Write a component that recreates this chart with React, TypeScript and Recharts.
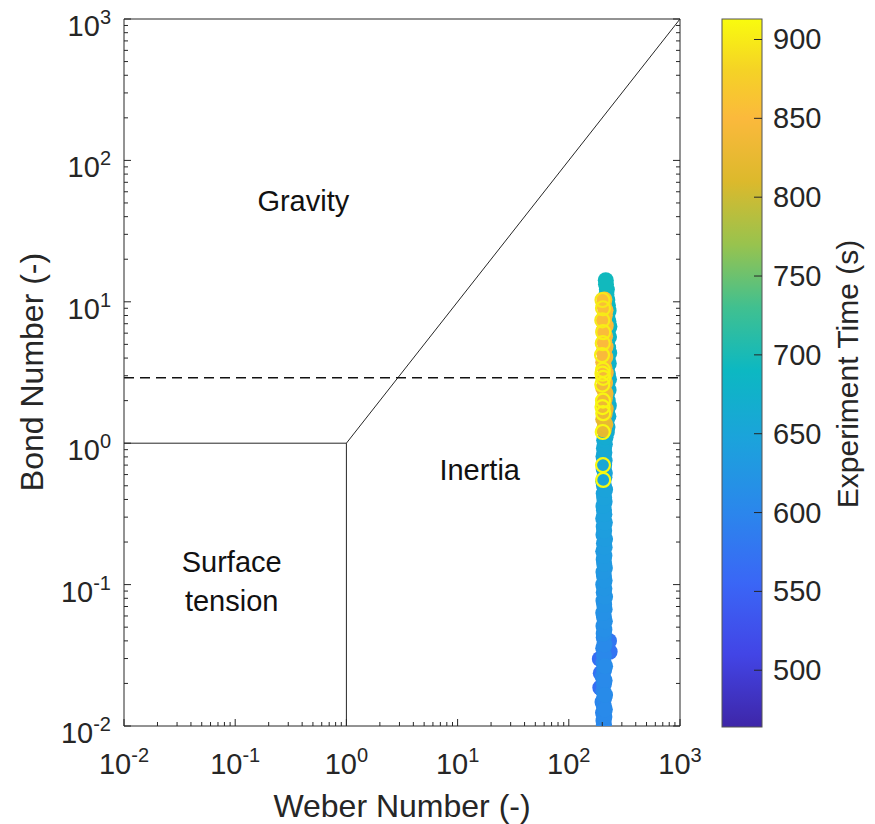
import React from "react";
import { ScatterChart, Scatter, XAxis, YAxis, ReferenceLine, ReferenceDot } from "recharts";

// axis ticks (log10 decades)
const majorTicks = [0.01, 0.1, 1, 10, 100, 1000];
const minorTicks = majorTicks.slice(0, -1).flatMap((m) => [2, 3, 4, 5, 6, 7, 8, 9].map((k) => m * k));
const allTicks = [...majorTicks, ...minorTicks].sort((a, b) => a - b);
const cbTicks = [500, 550, 600, 650, 700, 750, 800, 850, 900];
const cbRange = [464, 913];

// run 1: early part, low Bond numbers
const bond1 = [0.0103, 0.0109, 0.0116, 0.0124, 0.0131, 0.0139, 0.0148, 0.0157, 0.0166, 0.0176, 0.0187, 0.0198, 0.021, 0.0223, 0.0236, 0.025, 0.0265, 0.0281, 0.0298, 0.0316, 0.0335, 0.0355, 0.0376, 0.0399, 0.0423];
const weber1 = [207, 205, 209, 203, 211, 206, 201, 208, 212, 204, 192, 207, 210, 202, 194, 208, 212, 205, 190, 207, 233, 204, 209, 230, 206];
const time1 = [603, 601, 605, 599, 606, 602, 597, 604, 608, 600, 566, 603, 607, 598, 570, 605, 609, 601, 564, 604, 574, 602, 606, 577, 605];

// run 2
const bond2 = [0.045, 0.048, 0.051, 0.055, 0.059, 0.063, 0.067, 0.072, 0.077, 0.082, 0.088, 0.094, 0.1, 0.107, 0.115, 0.123, 0.131, 0.14, 0.15, 0.16, 0.172, 0.184, 0.196, 0.21, 0.225, 0.24, 0.257, 0.275, 0.294, 0.314, 0.336, 0.36, 0.385, 0.411, 0.44, 0.47, 0.503, 0.538, 0.575, 0.615, 0.658, 0.704, 0.753, 0.805, 0.861, 0.921, 0.985, 1.05];
const weber2 = [206, 209, 205, 211, 207, 204, 210, 208, 205, 212, 206, 209, 204, 210, 207, 205, 211, 208, 206, 209, 204, 210, 207, 212, 205, 208, 206, 211, 204, 209, 207, 205, 210, 208, 206, 212, 207, 204, 209, 211, 206, 208, 210, 205, 209, 207, 211, 208];
const time2 = [611, 614, 613, 616, 615, 618, 617, 620, 619, 622, 621, 624, 623, 626, 625, 628, 627, 630, 629, 632, 631, 634, 633, 636, 635, 638, 637, 640, 639, 642, 641, 644, 643, 646, 645, 648, 647, 650, 649, 652, 651, 654, 653, 656, 658, 657, 660, 661];

// run 3
const bond3 = [1.1, 1.2, 1.3, 1.42, 1.55, 1.69, 1.84, 2.0, 2.18, 2.38, 2.6, 2.83, 3.08, 3.36, 3.66, 3.99, 4.35, 4.74, 5.17, 5.63, 6.14, 6.69, 7.29, 7.95, 8.66, 9.44, 10.3, 11.2, 12.2, 13.3, 14.2];
const weber3 = [214, 220, 223, 218, 227, 221, 229, 224, 219, 228, 222, 230, 225, 220, 229, 223, 231, 226, 221, 230, 224, 232, 227, 222, 228, 225, 222, 218, 220, 216, 215];
const time3 = [664, 666, 665, 668, 667, 670, 669, 672, 671, 674, 673, 676, 675, 678, 677, 680, 679, 682, 681, 684, 683, 686, 685, 688, 687, 690, 689, 692, 691, 694, 693];

// run 4
const bond4 = [1.25, 1.36, 1.48, 1.61, 1.75, 1.9, 2.07, 2.25, 2.45, 2.67, 2.9, 3.16, 3.44, 3.74, 4.07, 4.43, 4.82, 5.25, 5.71, 6.22, 6.77, 7.37, 8.02, 8.73, 9.5, 10.4];
const weber4 = [207, 213, 204, 210, 215, 205, 211, 214, 204, 212, 207, 215, 209, 204, 213, 206, 214, 208, 212, 205, 215, 207, 211, 214, 206, 209];
const time4 = [822, 826, 824, 830, 828, 833, 831, 836, 834, 839, 837, 842, 840, 845, 843, 848, 846, 850, 849, 853, 851, 855, 854, 857, 856, 858];

// run 5: last points (drawn as open circles)
const bond5 = [10.3, 9.0, 7.4, 6.1, 5.1, 4.2, 3.3, 3.1, 2.9, 2.6, 2.0, 1.8, 1.63, 1.2, 0.7, 0.55];
const weber5 = [201, 203, 200, 204, 202, 199, 203, 201, 204, 200, 203, 201, 204, 202, 203, 204];
const time5 = [898, 900, 899, 902, 901, 903, 904, 906, 905, 907, 908, 910, 909, 911, 910, 912];

// regime boundaries
const criticalBond = 2.9;
const boundaries = [
  [{ x: 1, y: 1 }, { x: 1000, y: 1000 }],
  [{ x: 1, y: 0.01 }, { x: 1, y: 1 }],
  [{ x: 0.01, y: 1 }, { x: 1, y: 1 }],
];
const regimeLabels = [
  { text: "Gravity", we: 0.41, bo: 52 },
  { text: "Inertia", we: 15.8, bo: 0.645 },
  { text: "Surface", we: 0.093, bo: 0.145 },
  { text: "tension", we: 0.093, bo: 0.077 },
];

// parula-like colormap
const cmap: [number, string][] = [
  [464, "#3e26a8"], [510, "#4245e6"], [555, "#3a66f6"], [600, "#2b86ec"],
  [645, "#1ca2dc"], [690, "#0cb8c2"], [730, "#40c090"], [770, "#98c34e"],
  [810, "#dcb92c"], [850, "#fbb93c"], [880, "#f5d226"], [913, "#f9fb0e"],
];
const hex = (s: string) => [1, 3, 5].map((i) => parseInt(s.slice(i, i + 2), 16));
function colorOf(t: number) {
  if (t <= cmap[0][0]) return cmap[0][1];
  for (let i = 1; i < cmap.length; i++) {
    if (t <= cmap[i][0]) {
      const [t0, c0] = cmap[i - 1];
      const [t1, c1] = cmap[i];
      const f = (t - t0) / (t1 - t0);
      const a = hex(c0), b = hex(c1);
      return `rgb(${a.map((v, k) => Math.round(v + (b[k] - v) * f)).join(",")})`;
    }
  }
  return cmap[cmap.length - 1][1];
}

const zip = (we: number[], bo: number[], t: number[]) => we.map((w, i) => ({ weber: w, bond: bo[i], time: t[i] }));
const filled = [...zip(weber1, bond1, time1), ...zip(weber2, bond2, time2), ...zip(weber3, bond3, time3), ...zip(weber4, bond4, time4)].sort((a, b) => a.time - b.time);
const open = zip(weber5, bond5, time5).sort((a, b) => a.time - b.time);

const INK = "#262626";
const FONT = "'Liberation Sans', Arial, Helvetica, sans-serif";
const W = 867, H = 816;
// plot box in page px 124..680 x 19..726; the div sits at (8, 8)
const M = { top: 10, right: 194, bottom: 97, left: 115 };

const exp10 = (v: number) => Math.round(Math.log10(v));
const isMajor = (v: number) => Math.abs(Math.log10(v) - exp10(v)) < 1e-6;

// tick marks point inwards; labels only on bottom/left
function makeTick(side: "bottom" | "top" | "left" | "right") {
  return function Tick({ x, y, payload }: any) {
    const v = payload.value;
    const len = isMajor(v) ? 7 : 4;
    const line =
      side === "bottom" ? <line x1={x} x2={x} y1={y} y2={y - len} stroke={INK} /> :
      side === "top" ? <line x1={x} x2={x} y1={y} y2={y + len} stroke={INK} /> :
      side === "left" ? <line x1={x} x2={x + len} y1={y} y2={y} stroke={INK} /> :
      <line x1={x} x2={x - len} y1={y} y2={y} stroke={INK} />;
    let label = null;
    if (isMajor(v) && side === "bottom") {
      label = (
        <text x={x} y={y + 48} textAnchor="middle" fill={INK} fontSize={29} fontFamily={FONT}>
          10<tspan dy={-12} fontSize={20}>{exp10(v)}</tspan>
        </text>
      );
    } else if (isMajor(v) && side === "left") {
      label = (
        <text x={x - 13} y={y + 17} textAnchor="end" fill={INK} fontSize={29} fontFamily={FONT}>
          10<tspan dy={-12} fontSize={20}>{exp10(v)}</tspan>
        </text>
      );
    }
    return <g>{line}{label}</g>;
  };
}
const BottomTick = makeTick("bottom");
const TopTick = makeTick("top");
const LeftTick = makeTick("left");
const RightTick = makeTick("right");

const logDomain: [number, number] = [0.01, 1000];
const cbBox = { x: 714, y: 11, w: 40, h: 708 };
const cbY = (v: number) => cbBox.y + ((cbRange[1] - v) / (cbRange[1] - cbRange[0])) * cbBox.h;

export default function App() {
  const axisLine = { stroke: INK, strokeWidth: 1 };
  const common = {
    type: "number" as const, scale: "log" as const, domain: logDomain, allowDataOverflow: true,
    ticks: allTicks, interval: 0, tickSize: 0, tickMargin: 0, tickLine: false, axisLine,
  };
  return (
    <div style={{ position: "relative", width: W, height: H }}>
      <style>{`.recharts-surface { overflow: visible; }`}</style>
      <ScatterChart width={W} height={H} margin={M}>
        <XAxis xAxisId="x" dataKey="weber" height={1} tick={<BottomTick />} {...common} />
        <XAxis xAxisId="xt" orientation="top" height={1} tick={<TopTick />} {...common} />
        <YAxis yAxisId="y" dataKey="bond" width={1} tick={<LeftTick />} {...common} />
        <YAxis yAxisId="yr" orientation="right" width={1} tick={<RightTick />} {...common} />

        {boundaries.map((seg, i) => (
          <ReferenceLine key={i} xAxisId="x" yAxisId="y" segment={seg} stroke={INK} strokeWidth={1} ifOverflow="visible" />
        ))}
        <ReferenceLine xAxisId="x" yAxisId="y" y={criticalBond} stroke="#111" strokeWidth={1.6} strokeDasharray="10 6" />

        {regimeLabels.map((r) => (
          <ReferenceDot key={r.text} xAxisId="x" yAxisId="y" x={r.we} y={r.bo} r={0} fill="none" stroke="none"
            label={{ value: r.text, position: "center", fill: "#111", fontSize: 29, fontFamily: FONT }} />
        ))}

        <Scatter xAxisId="x" yAxisId="y" data={filled} isAnimationActive={false}
          shape={(p: any) => <circle cx={p.cx} cy={p.cy} r={8} fill={colorOf(p.payload.time)} />} />
        <Scatter xAxisId="x" yAxisId="y" data={open} isAnimationActive={false}
          shape={(p: any) => <circle cx={p.cx} cy={p.cy} r={7} fill="none" stroke={colorOf(p.payload.time)} strokeWidth={2.2} />} />
      </ScatterChart>

      <svg width={W} height={H} style={{ position: "absolute", left: 0, top: 0, pointerEvents: "none", overflow: "visible" }}>
        <defs>
          <linearGradient id="cb" x1="0" y1="1" x2="0" y2="0">
            {cmap.map(([v, c]) => (
              <stop key={v} offset={(v - cbRange[0]) / (cbRange[1] - cbRange[0])} stopColor={c} />
            ))}
          </linearGradient>
        </defs>
        <rect x={cbBox.x} y={cbBox.y} width={cbBox.w} height={cbBox.h} fill="url(#cb)" stroke="#555" strokeWidth={1} />
        {cbTicks.map((v) => (
          <g key={v}>
            <line x1={cbBox.x + cbBox.w - 8} x2={cbBox.x + cbBox.w} y1={cbY(v)} y2={cbY(v)} stroke={INK} />
            <text x={cbBox.x + cbBox.w + 11} y={cbY(v) + 10} fill={INK} fontSize={29} fontFamily={FONT}>{v}</text>
          </g>
        ))}
        <text x={850} y={366} transform="rotate(-90 850 366)" textAnchor="middle" fill={INK} fontSize={30} fontFamily={FONT}>Experiment Time (s)</text>
        <text x={35} y={364} transform="rotate(-90 35 364)" textAnchor="middle" fill={INK} fontSize={32} fontFamily={FONT}>Bond Number (-)</text>
        <text x={394} y={809} textAnchor="middle" fill={INK} fontSize={32} fontFamily={FONT}>Weber Number (-)</text>
      </svg>
    </div>
  );
}
